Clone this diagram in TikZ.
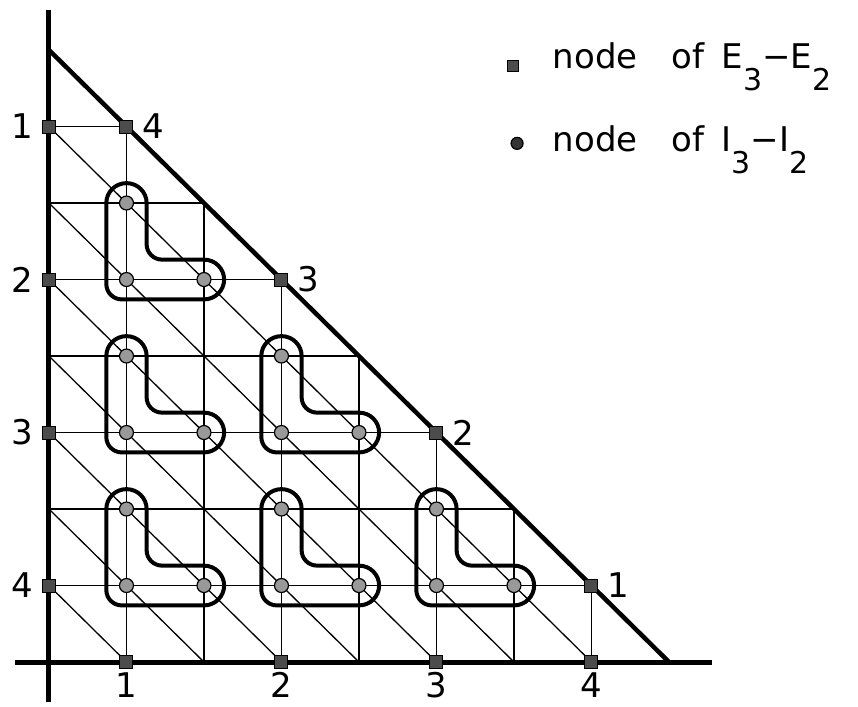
\documentclass[tikz,border=0pt]{standalone}
\usepackage{fontspec}
\setmainfont{DejaVu Sans}
\usetikzlibrary{positioning}

\newcommand{\lowidx}[1]{\raisebox{-22pt}{\fontsize{30}{30}\selectfont #1}}
\def\lrad{0.26}
\def\lcrn{0.2}

\begin{document}
\begin{tikzpicture}[
  x=77.5pt, y=76.5pt,
  every node/.style={font=\fontsize{34}{40}\selectfont},
  sqnode/.style={rectangle, draw, line width=1pt, fill=black!70, minimum size=13pt, inner sep=0pt},
  cirnode/.style={circle, draw, line width=1.2pt, fill=black!40, minimum size=14pt, inner sep=0pt},
  gridline/.style={line width=1.3pt},
  axis/.style={line width=5pt},
  bound/.style={line width=4.5pt},
  lshape/.style={line width=4pt},
  lab/.style={inner sep=0pt},
  lowlab/.style={inner sep=0pt, label distance=3pt},
  label distance=9pt
]
\useasboundingbox (-0.632,-0.575) rectangle (10.439,8.654);

% --- mesh ---
\foreach \k in {1,...,7} {
  \draw[gridline] (\k,0) -- (\k,8-\k);
  \draw[gridline] (0,\k) -- (8-\k,\k);
  \draw[gridline] (0,\k) -- (\k,0);
}

% --- axes and boundary ---
\draw[axis] (0,-0.52) -- (0,8.52);
\draw[axis] (-0.44,0) -- (8.55,0);
\draw[bound] (0,8) -- (8,0);

% --- L-shaped groups of current nodes ---
\foreach \u/\v [count=\i] in {1/5,1/3,3/3,1/1,3/1,5/1} {
  \draw[lshape] (\u-\lrad,\v+1) -- (\u-\lrad,\v-\lrad+\lcrn)
    arc[start angle=180, end angle=270, radius=\lcrn] -- (\u+1,\v-\lrad)
    arc[start angle=-90, end angle=90, radius=\lrad] -- (\u+\lrad+\lcrn,\v+\lrad)
    arc[start angle=270, end angle=180, radius=\lcrn] -- (\u+\lrad,\v+1)
    arc[start angle=0, end angle=180, radius=\lrad] -- cycle;
  \node[cirnode] (t\i) at (\u,\v+1) {};
  \node[cirnode] (c\i) at (\u,\v) {};
  \node[cirnode] (r\i) at (\u+1,\v) {};
}

% --- voltage nodes ---
\node[sqnode, label={[lab]left:1}] (y1) at (0,7) {};
\node[sqnode, label={[lab]left:2}] (y2) at (0,5) {};
\node[sqnode, label={[lab]left:3}] (y3) at (0,3) {};
\node[sqnode, label={[lab]left:4}] (y4) at (0,1) {};

\node[sqnode, label={[lowlab]below:1}] (x1) at (1,0) {};
\node[sqnode, label={[lowlab]below:2}] (x2) at (3,0) {};
\node[sqnode, label={[lowlab]below:3}] (x3) at (5,0) {};
\node[sqnode, label={[lowlab]below:4}] (x4) at (7,0) {};

\node[sqnode, label={[lab]right:4}] (h4) at (1,7) {};
\node[sqnode, label={[lab]right:3}] (h3) at (3,5) {};
\node[sqnode, label={[lab]right:2}] (h2) at (5,3) {};
\node[sqnode, label={[lab]right:1}] (h1) at (7,1) {};

% --- key ---
\node[sqnode, minimum size=11pt] (keysq) at (5.99,7.79) {};
\node[anchor=base west, inner sep=0pt] (keyE) at (6.50,7.76)
  {node\quad of\enspace E\lowidx{3}−E\lowidx{2}};
\node[cirnode, minimum size=12pt, fill=black!80] (keyci) at (6.04,6.78) {};
\node[anchor=base west, inner sep=0pt] (keyI) at (6.50,6.67)
  {node\quad of\enspace I\lowidx{3}−I\lowidx{2}};

\end{tikzpicture}
\end{document}
